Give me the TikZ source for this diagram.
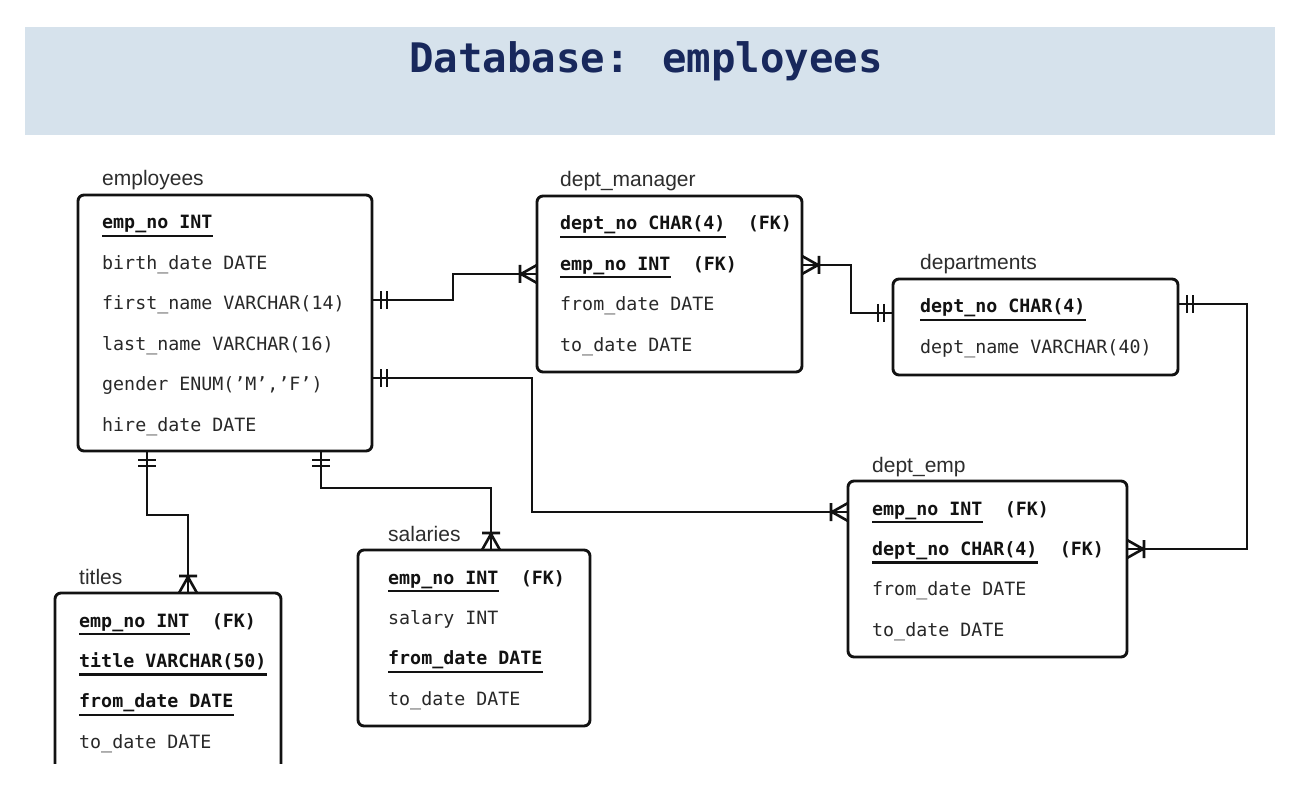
\documentclass[tikz,border=0pt]{standalone}
\usepackage{fontspec}
\usetikzlibrary{positioning}
\newfontfamily\monofam{DejaVu Sans Mono}
\newfontfamily\sansfam{Liberation Sans}
\definecolor{bannerblue}{RGB}{214,226,236}
\definecolor{titlenavy}{RGB}{24,40,92}
\definecolor{inkblack}{RGB}{18,18,18}
\definecolor{fieldgray}{RGB}{40,40,40}
\definecolor{namegray}{RGB}{45,45,45}

% crow's foot with bar (one or many)
\pgfdeclarearrow{
  name = crow,
  setup code = {
    \pgfarrowssettipend{0pt}
    \pgfarrowssetlineend{0pt}
    \pgfarrowssetbackend{-17pt}
    \pgfarrowssetvisualbackend{-17pt}
    \pgfarrowshullpoint{0pt}{9pt}
    \pgfarrowshullpoint{0pt}{-9pt}
    \pgfarrowshullpoint{-17pt}{9pt}
    \pgfarrowshullpoint{-17pt}{-9pt}
  },
  drawing code = {
    \pgfsetdash{}{0pt}
    \pgfpathmoveto{\pgfqpoint{0pt}{9pt}}
    \pgfpathlineto{\pgfqpoint{-16pt}{0pt}}
    \pgfpathlineto{\pgfqpoint{0pt}{-9pt}}
    \pgfpathmoveto{\pgfqpoint{-17pt}{9pt}}
    \pgfpathlineto{\pgfqpoint{-17pt}{-9pt}}
    \pgfusepathqstroke
  }
}
% two bars (one and only one)
\pgfdeclarearrow{
  name = one,
  setup code = {
    \pgfarrowssettipend{0pt}
    \pgfarrowssetlineend{0pt}
    \pgfarrowssetbackend{-16pt}
    \pgfarrowssetvisualbackend{-16pt}
    \pgfarrowshullpoint{-9pt}{9pt}
    \pgfarrowshullpoint{-9pt}{-9pt}
    \pgfarrowshullpoint{-16pt}{9pt}
    \pgfarrowshullpoint{-16pt}{-9pt}
  },
  drawing code = {
    \pgfsetdash{}{0pt}
    \pgfpathmoveto{\pgfqpoint{-9pt}{9pt}}
    \pgfpathlineto{\pgfqpoint{-9pt}{-9pt}}
    \pgfpathmoveto{\pgfqpoint{-15pt}{9pt}}
    \pgfpathlineto{\pgfqpoint{-15pt}{-9pt}}
    \pgfusepathqstroke
  }
}

\begin{document}
\begin{tikzpicture}[x=1pt,y=-1pt,
  table/.style={draw=inkblack,line width=2.9pt,rounded corners=6pt,anchor=north west,outer sep=0pt,inner sep=0pt},
  tname/.style={anchor=base west,inner sep=0pt,text=namegray,font=\sansfam\fontsize{21}{24}\selectfont},
  field/.style={anchor=base west,inner sep=0pt,text height=14pt,text depth=5pt,text=fieldgray,font=\monofam\fontsize{18.3}{22}\selectfont},
  keyline/.style={draw=inkblack,line width=2.2pt},
  pk/.style={field,text=inkblack,font=\monofam\bfseries\fontsize{18.3}{22}\selectfont,
    append after command={([yshift=-7pt]\tikzlastnode.base west) edge[keyline] ([yshift=-7pt]\tikzlastnode.base east)}},
  fk/.style={field,text=inkblack,font=\monofam\bfseries\fontsize{18.3}{22}\selectfont,base right=22pt of #1},
  nextrow/.style={below right=21pt and 0pt of #1.south west},
  rel/.style={draw=inkblack,line width=2.6pt},
  dbtitle/.style={anchor=base,inner sep=0pt,text=titlenavy,font=\monofam\bfseries\fontsize{40.7}{48}\selectfont}]

  \useasboundingbox (0,0) rectangle (1312,786);
  \fill[white] (0,0) rectangle (1312,786);
  \fill[bannerblue] (25,27) rectangle (1275,135);
  \node[dbtitle] (title) at (646,73) {Database: employees};

  % employees
  \node[table,minimum width=294pt,minimum height=256pt] (employees) at (78,195) {};
  \node[tname] (employeesname) at ([xshift=24pt,yshift=9pt]employees.north west) {employees};
  \node[pk] (em1) at ([xshift=24pt,yshift=-34pt]employees.north west) {emp\_no INT};
  \node[field,nextrow=em1] (em2) {birth\_date DATE};
  \node[field,nextrow=em2] (em3) {first\_name VARCHAR(14)};
  \node[field,nextrow=em3] (em4) {last\_name VARCHAR(16)};
  \node[field,nextrow=em4] (em5) {gender ENUM(’M’,’F’)};
  \node[field,nextrow=em5] (em6) {hire\_date DATE};

  % dept_manager
  \node[table,minimum width=265pt,minimum height=176pt] (deptmanager) at (537,196) {};
  \node[tname] (deptmanagername) at ([xshift=23pt,yshift=9pt]deptmanager.north west) {dept\_manager};
  \node[pk] (dm1) at ([xshift=23pt,yshift=-34pt]deptmanager.north west) {dept\_no CHAR(4)};
  \node[fk=dm1] (dm1fk) {(FK)};
  \node[pk,nextrow=dm1] (dm2) {emp\_no INT};
  \node[fk=dm2] (dm2fk) {(FK)};
  \node[field,nextrow=dm2] (dm3) {from\_date DATE};
  \node[field,nextrow=dm3] (dm4) {to\_date DATE};

  % departments
  \node[table,minimum width=285pt,minimum height=96pt] (departments) at (893,279) {};
  \node[tname] (departmentsname) at ([xshift=27pt,yshift=9pt]departments.north west) {departments};
  \node[pk] (dp1) at ([xshift=27pt,yshift=-34pt]departments.north west) {dept\_no CHAR(4)};
  \node[field,nextrow=dp1] (dp2) {dept\_name VARCHAR(40)};

  % dept_emp
  \node[table,minimum width=279pt,minimum height=176pt] (deptemp) at (848,481) {};
  \node[tname] (deptempname) at ([xshift=24pt,yshift=9pt]deptemp.north west) {dept\_emp};
  \node[pk] (de1) at ([xshift=24pt,yshift=-34pt]deptemp.north west) {emp\_no INT};
  \node[fk=de1] (de1fk) {(FK)};
  \node[pk,nextrow=de1] (de2) {dept\_no CHAR(4)};
  \node[fk=de2] (de2fk) {(FK)};
  \node[field,nextrow=de2] (de3) {from\_date DATE};
  \node[field,nextrow=de3] (de4) {to\_date DATE};

  % titles (cut off at the bottom)
  \begin{scope}
    \clip (0,0) rectangle (1312,763);
    \node[table,minimum width=226pt,minimum height=190pt] (titles) at (55,593) {};
  \end{scope}
  \node[tname] (titlesname) at ([xshift=24pt,yshift=9pt]titles.north west) {titles};
  \node[pk] (ti1) at ([xshift=24pt,yshift=-34pt]titles.north west) {emp\_no INT};
  \node[fk=ti1] (ti1fk) {(FK)};
  \node[pk,nextrow=ti1] (ti2) {title VARCHAR(50)};
  \node[pk,nextrow=ti2] (ti3) {from\_date DATE};
  \node[field,nextrow=ti3] (ti4) {to\_date DATE};

  % salaries
  \node[table,minimum width=232pt,minimum height=176pt] (salaries) at (358,550) {};
  \node[tname] (salariesname) at ([xshift=30pt,yshift=9pt]salaries.north west) {salaries};
  \node[pk] (sa1) at ([xshift=30pt,yshift=-34pt]salaries.north west) {emp\_no INT};
  \node[fk=sa1] (sa1fk) {(FK)};
  \node[field,nextrow=sa1] (sa2) {salary INT};
  \node[pk,nextrow=sa2] (sa3) {from\_date DATE};
  \node[field,nextrow=sa3] (sa4) {to\_date DATE};

  % relations
  \draw[rel,one-crow] ([yshift=-105pt]employees.north east) -- ++(81,0) |- ([yshift=-78pt]deptmanager.north west);
  \draw[rel,one-crow] ([yshift=-183pt]employees.north east) -- ++(160,0) |- ([yshift=-31pt]deptemp.north west);
  \draw[rel,crow-one] ([yshift=-69pt]deptmanager.north east) -- ++(49,0) |- ([yshift=-34pt]departments.north west);
  \draw[rel,one-crow] ([yshift=-25pt]departments.north east) -- ++(69,0) |- ([yshift=-68pt]deptemp.north east);
  \draw[rel,one-crow] ([xshift=69pt]employees.south west) -- ++(0,64) -| ([xshift=133pt]titles.north west);
  \draw[rel,one-crow] ([xshift=243pt]employees.south west) -- ++(0,37) -| ([xshift=133pt]salaries.north west);
\end{tikzpicture}
\end{document}
